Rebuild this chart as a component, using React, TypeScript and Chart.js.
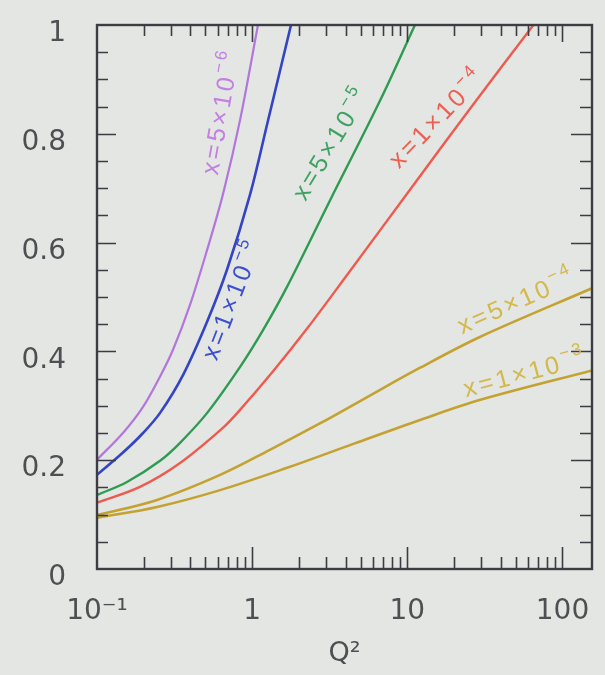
import React, { useEffect, useRef } from "react";
import { Chart, registerables } from "chart.js";

Chart.register(...registerables);

// Q² sample points and the quantity plotted for each x value
const q2X5e6 = [0.1, 0.147, 0.198, 0.255, 0.309, 0.398, 0.513, 0.65, 0.838, 1.09];
const valX5e6 = [0.201, 0.25, 0.298, 0.354, 0.403, 0.486, 0.587, 0.69, 0.827, 1.0];

const q2X1e5 = [0.1, 0.147, 0.198, 0.255, 0.359, 0.513, 0.69, 0.971, 1.25, 1.78];
const valX1e5 = [0.173, 0.214, 0.25, 0.287, 0.357, 0.455, 0.551, 0.689, 0.818, 1.0];

const q2X5e5 = [0.1, 0.156, 0.255, 0.343, 0.513, 0.838, 1.18, 1.68, 3.18, 6.7, 11.2];
const valX5e5 = [0.136, 0.16, 0.199, 0.232, 0.287, 0.372, 0.44, 0.519, 0.678, 0.862, 1.0];

const q2X1e4 = [0.1, 0.189, 0.343, 0.65, 0.838, 1.36, 2.26, 4.1, 10.9, 25.5, 65];
const valX1e4 = [0.122, 0.151, 0.195, 0.26, 0.293, 0.363, 0.442, 0.541, 0.705, 0.847, 1.0];

const q2X5e4 = [0.1, 0.244, 0.622, 1.3, 2.75, 5.2, 12.1, 29.6, 155];
const valX5e4 = [0.099, 0.127, 0.173, 0.219, 0.268, 0.312, 0.37, 0.427, 0.516];

const q2X1e3 = [0.1, 0.244, 0.622, 1.68, 4.49, 12.1, 29.6, 155];
const valX1e3 = [0.094, 0.114, 0.145, 0.186, 0.23, 0.274, 0.311, 0.365];

// axis ticks
const xTickValues = [0.1, 1, 10, 100];
const xTickLabels = ["10⁻¹", "1", "10", "100"];
const yTickValues = [0, 0.2, 0.4, 0.6, 0.8, 1];
const yTickLabels = ["0", "0.2", "0.4", "0.6", "0.8", "1"];
const xMinorTicks = [
  0.2, 0.3, 0.4, 0.5, 0.6, 0.7, 0.8, 0.9, 1,
  2, 3, 4, 5, 6, 7, 8, 9, 10,
  20, 30, 40, 50, 60, 70, 80, 90, 100,
];
const xMajorMarks = [1, 10, 100];
const yMinorTicks = [
  0.05, 0.1, 0.15, 0.2, 0.25, 0.3, 0.35, 0.4, 0.45, 0.5,
  0.55, 0.6, 0.65, 0.7, 0.75, 0.8, 0.85, 0.9, 0.95,
];
const yMajorMarks = [0.2, 0.4, 0.6, 0.8];

const BG = "#e3e6e2";
const FRAME = "#3c3d44";
const TEXT = "#4e4f52";

type CurveLabel = {
  base: string;
  exp: string;
  q2: number;
  val: number;
  angle: number;
  color: string;
};

const series = [
  { q2: q2X5e6, val: valX5e6, color: "#b276dc", width: 2.2 },
  { q2: q2X1e5, val: valX1e5, color: "#3544c4", width: 2.6 },
  { q2: q2X5e5, val: valX5e5, color: "#2f9a52", width: 2.4 },
  { q2: q2X1e4, val: valX1e4, color: "#ef5a4e", width: 2.4 },
  { q2: q2X5e4, val: valX5e4, color: "#c4a232", width: 2.6 },
  { q2: q2X1e3, val: valX1e3, color: "#c4a232", width: 2.6 },
];

const curveLabels: CurveLabel[] = [
  { base: "x=5×10", exp: "−6", q2: 0.64, val: 0.84, angle: -80, color: "#c281e2" },
  { base: "x=1×10", exp: "−5", q2: 0.754, val: 0.495, angle: -69, color: "#3b4fd0" },
  { base: "x=5×10", exp: "−5", q2: 3.28, val: 0.781, angle: -59, color: "#3fa262" },
  { base: "x=1×10", exp: "−4", q2: 15.8, val: 0.827, angle: -46, color: "#ee5e52" },
  { base: "x=5×10", exp: "−4", q2: 51, val: 0.49, angle: -24, color: "#d3b84c" },
  { base: "x=1×10", exp: "−3", q2: 57.7, val: 0.358, angle: -15, color: "#d3b84c" },
];

const backgroundPlugin = {
  id: "bgFill",
  beforeDraw(chart: any) {
    const { ctx, width, height } = chart;
    ctx.save();
    ctx.fillStyle = BG;
    ctx.fillRect(0, 0, width, height);
    ctx.restore();
  },
};

const framePlugin = {
  id: "frameTicks",
  afterDatasetsDraw(chart: any) {
    const { ctx, chartArea: a, scales } = chart;
    const xs = scales.x;
    const ys = scales.y;
    ctx.save();
    ctx.strokeStyle = FRAME;
    ctx.lineWidth = 1.6;
    ctx.beginPath();
    for (const v of xMinorTicks) {
      const px = Math.round(xs.getPixelForValue(v)) + 0.5;
      const major = xMajorMarks.includes(v);
      ctx.moveTo(px, a.bottom);
      ctx.lineTo(px, a.bottom - (major ? 22 : 12));
      ctx.moveTo(px, a.top);
      ctx.lineTo(px, a.top + (major ? 17 : 11));
    }
    for (const v of yMinorTicks) {
      const py = Math.round(ys.getPixelForValue(v)) + 0.5;
      const major = yMajorMarks.includes(v);
      ctx.moveTo(a.left, py);
      ctx.lineTo(a.left + (major ? 19 : 11), py);
      ctx.moveTo(a.right, py);
      ctx.lineTo(a.right - (major ? 21 : 12), py);
    }
    ctx.stroke();
    ctx.lineWidth = 2.4;
    ctx.strokeRect(a.left, a.top, a.right - a.left, a.bottom - a.top);
    ctx.restore();

    // rotated curve labels
    const baseFont = "25px 'Liberation Sans', sans-serif";
    const expFont = "17px 'Liberation Sans', sans-serif";
    for (const lb of curveLabels) {
      const cx = xs.getPixelForValue(lb.q2);
      const cy = ys.getPixelForValue(lb.val);
      ctx.save();
      ctx.translate(cx, cy);
      ctx.rotate((lb.angle * Math.PI) / 180);
      ctx.fillStyle = lb.color;
      ctx.textBaseline = "middle";
      ctx.textAlign = "left";
      (ctx as any).letterSpacing = "3px";
      ctx.font = baseFont;
      const wBase = ctx.measureText(lb.base).width;
      ctx.font = expFont;
      const wExp = ctx.measureText(lb.exp).width;
      const x0 = -(wBase + wExp) / 2;
      ctx.font = baseFont;
      ctx.fillText(lb.base, x0, 0);
      ctx.font = expFont;
      ctx.fillText(lb.exp, x0 + wBase, -10);
      ctx.restore();
    }
  },
};

export default function App() {
  const canvasRef = useRef<HTMLCanvasElement | null>(null);

  useEffect(() => {
    document.body.style.margin = "0";
    document.body.style.background = BG;
    const canvas = canvasRef.current;
    if (!canvas) return;

    const datasets = series.map((s) => ({
      data: s.q2.map((q, i) => ({ x: q, y: s.val[i] })),
      borderColor: s.color,
      borderWidth: s.width,
      pointRadius: 0,
      fill: false,
      cubicInterpolationMode: "default" as const,
      tension: 0.35,
    }));

    const tickFont = { family: "'DejaVu Sans', sans-serif", size: 28 };

    const chart = new Chart(canvas, {
      type: "line",
      data: { datasets },
      options: {
        responsive: false,
        animation: false,
        events: [],
        layout: { padding: { top: 25, right: 13, left: 0, bottom: 0 } },
        plugins: {
          legend: { display: false },
          tooltip: { enabled: false },
        },
        scales: {
          x: {
            type: "logarithmic",
            position: "bottom",
            min: 0.1,
            max: 155,
            grid: { display: false, drawTicks: false },
            border: { display: false },
            afterBuildTicks: (scale: any) => {
              scale.ticks = xTickValues.map((v) => ({ value: v }));
            },
            afterFit: (scale: any) => {
              scale.height = 106;
              scale.paddingLeft = 0;
              scale.paddingRight = 0;
            },
            ticks: {
              autoSkip: false,
              maxRotation: 0,
              minRotation: 0,
              padding: 26,
              color: TEXT,
              font: tickFont,
              callback: (v: any) => {
                const i = xTickValues.indexOf(Number(v));
                return i >= 0 ? xTickLabels[i] : "";
              },
            },
            title: {
              display: true,
              text: "Q²",
              color: TEXT,
              font: { family: "'DejaVu Sans', sans-serif", size: 27 },
              padding: { top: 0, bottom: 5 },
            },
          },
          y: {
            type: "linear",
            min: 0,
            max: 1,
            grid: { display: false, drawTicks: false },
            border: { display: false },
            afterBuildTicks: (scale: any) => {
              scale.ticks = yTickValues.map((v) => ({ value: v }));
            },
            afterFit: (scale: any) => {
              scale.width = 97;
              scale.paddingTop = 0;
              scale.paddingBottom = 0;
            },
            ticks: {
              padding: 31,
              labelOffset: 9,
              color: TEXT,
              font: tickFont,
              callback: (v: any) => {
                const i = yTickValues.findIndex((t) => Math.abs(t - Number(v)) < 1e-6);
                return i >= 0 ? yTickLabels[i] : "";
              },
            },
          },
        },
      },
      plugins: [backgroundPlugin, framePlugin],
    });

    return () => chart.destroy();
  }, []);

  return (
    <canvas
      ref={canvasRef}
      width={605}
      height={675}
      style={{ display: "block", width: 605, height: 675 }}
    />
  );
}
